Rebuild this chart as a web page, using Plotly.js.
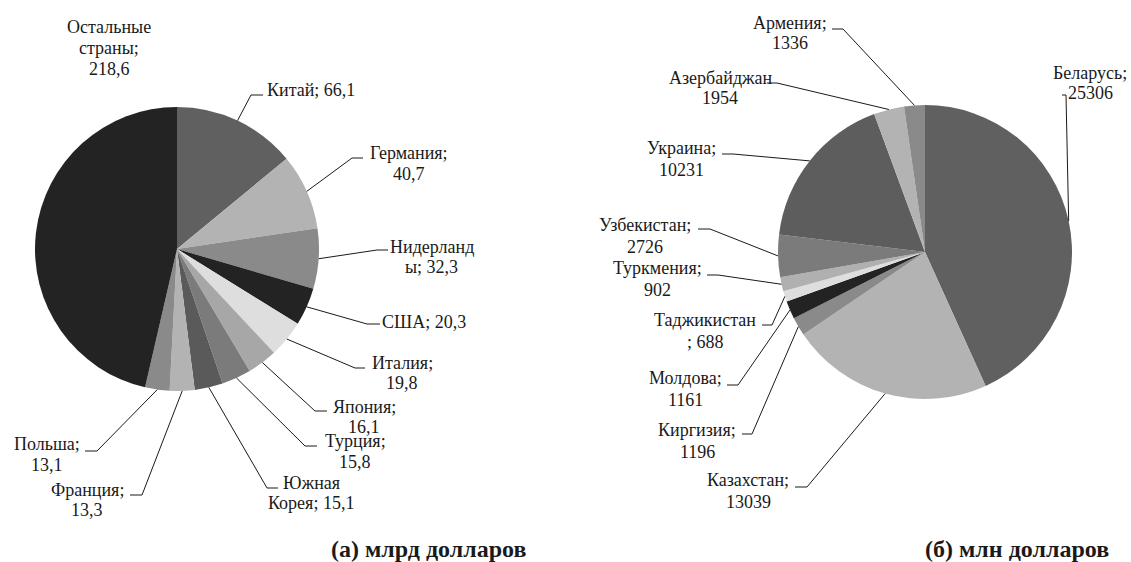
<!DOCTYPE html>
<html>
<head>
<meta charset="utf-8">
<script src="https://cdn.plot.ly/plotly-3.0.1.min.js"></script>
<style>html,body{margin:0;padding:0;background:#fff;}#chart{width:1131px;height:562px;}</style>
</head>
<body>
<div id="chart"></div>
<script>
// ---- data ----
const leftNames = ['Китай','Германия','Нидерланды','США','Италия','Япония','Турция','Южная Корея','Франция','Польша','Остальные страны'];
const leftValues = [66.1, 40.7, 32.3, 20.3, 19.8, 16.1, 15.8, 15.1, 13.3, 13.1, 218.6];
const rightNames = ['Беларусь','Казахстан','Киргизия','Молдова','Таджикистан','Туркмения','Узбекистан','Украина','Азербайджан','Армения'];
const rightValues = [25306, 13039, 1196, 1161, 688, 902, 2726, 10231, 1954, 1336];
const leftTitle = '(а) млрд долларов';
const rightTitle = '(б) млн долларов';

// ---- styles ----
const leftColors = ['#606060','#b3b3b3','#8a8a8a','#232323','#dedede','#a7a7a7','#7b7b7b','#5a5a5a','#b3b3b3','#8a8a8a','#232323'];
const rightColors = ['#606060','#b3b3b3','#8a8a8a','#232323','#dedede','#b0b0b0','#7b7b7b','#5d5d5d','#b3b3b3','#8a8a8a'];

const W = 1131, H = 562;
const px = v => v / W;
const py = v => 1 - v / H;

const LP = {cx: 177, cy: 249, r: 142};
const RP = {cx: 925, cy: 252, r: 147};

// label layout: cuts = [[end, nextStart], ...], text center x, line ys, leader elbow x,y and horizontal end x
const leftLayout = [
  {cuts: [], tx: 311, ys: [90], ex: 251, ey: 95, hx: 263},
  {cuts: [[9,10]], tx: 409, ys: [153,174], ex: 352, ey: 158, hx: 363},
  {cuts: [[9,9]], tx: 432, ys: [247,267], ex: 377, ey: 250, hx: 388},
  {cuts: [], tx: 424, ys: [322], ex: 367, ey: 324, hx: 380},
  {cuts: [[7,8]], tx: 402, ys: [363,383], ex: 355, ey: 368, hx: 365},
  {cuts: [[7,8]], tx: 364, ys: [407,427], ex: 315, ey: 411, hx: 327},
  {cuts: [[7,8]], tx: 355, ys: [441,462], ex: 305, ey: 446, hx: 317},
  {cuts: [[5,6]], tx: 311, ys: [483,503], ex: 267, ey: 488, hx: 278},
  {cuts: [[8,9]], tx: 87, ys: [490,510], ex: 142, ey: 495, hx: 130},
  {cuts: [[7,8]], tx: 47, ys: [444,465], ex: 97, ey: 451, hx: 85},
  {cuts: [[9,10],[17,18]], tx: 109, ys: [27,48,69], ex: null}
];
const rightLayout = [
  {cuts: [[9,10]], tx: 1090, ys: [73,93], ex: 1066, ey: 95, hx: 1062},
  {cuts: [[10,11]], tx: 748, ys: [480,502], ex: 807, ey: 487, hx: 795},
  {cuts: [[9,10]], tx: 697, ys: [430,452], ex: 752, ey: 434, hx: 742},
  {cuts: [[8,9]], tx: 685, ys: [378,400], ex: 738, ey: 385, hx: 727},
  {cuts: [[11,11]], tx: 705, ys: [320,342], ex: 772, ey: 325, hx: 762},
  {cuts: [[10,11]], tx: 657, ys: [268,290], ex: 718, ey: 275, hx: 707},
  {cuts: [[11,12]], tx: 645, ys: [225,247], ex: 710, ey: 229, hx: 698},
  {cuts: [[8,9]], tx: 681, ys: [148,170], ex: 733, ey: 154, hx: 722},
  {cuts: [[11,13]], tx: 720, ys: [78,98], ex: 777, ey: 83, hx: 767},
  {cuts: [[8,9]], tx: 790, ys: [23,43], ex: 843, ey: 29, hx: 832}
];

const fmtL = v => v.toFixed(1).replace('.', ',');
const fmtR = v => String(v);

function splitText(s, cuts) {
  const out = [];
  let start = 0;
  cuts.forEach(c => { out.push(s.slice(start, c[0]).trim()); start = c[1]; });
  out.push(s.slice(start).trim());
  return out;
}

const FONT = 'Liberation Serif';
const annotations = [];
const shapes = [];

function buildLabels(names, values, layoutArr, fmt, geo) {
  const total = values.reduce((a, b) => a + b, 0);
  let cum = 0;
  names.forEach((name, i) => {
    const midAng = (cum + values[i] / 2) / total * 2 * Math.PI;
    cum += values[i];
    const L = layoutArr[i];
    const lines = splitText(name + '; ' + fmt(values[i]), L.cuts);
    lines.forEach((t, k) => {
      annotations.push({
        xref: 'paper', yref: 'paper', x: px(L.tx), y: py(L.ys[k]),
        xanchor: 'center', yanchor: 'middle', showarrow: false, text: t,
        font: {family: FONT, size: 18, color: '#1a1a1a'}
      });
    });
    if (L.ex !== null) {
      const ax = geo.cx + geo.r * Math.sin(midAng);
      const ay = geo.cy - geo.r * Math.cos(midAng);
      shapes.push({
        type: 'path', xref: 'paper', yref: 'paper',
        path: `M ${px(ax)},${py(ay)} L ${px(L.ex)},${py(L.ey)} L ${px(L.hx)},${py(L.ey)}`,
        line: {color: '#1a1a1a', width: 1}
      });
    }
  });
}
buildLabels(leftNames, leftValues, leftLayout, fmtL, LP);
buildLabels(rightNames, rightValues, rightLayout, fmtR, RP);

annotations.push({xref: 'paper', yref: 'paper', x: px(428), y: py(549), xanchor: 'center', yanchor: 'middle',
  showarrow: false, text: '<b>' + leftTitle + '</b>', font: {family: FONT, size: 24, color: '#1a1a1a'}});
annotations.push({xref: 'paper', yref: 'paper', x: px(1017), y: py(549), xanchor: 'center', yanchor: 'middle',
  showarrow: false, text: '<b>' + rightTitle + '</b>', font: {family: FONT, size: 24, color: '#1a1a1a'}});

function dom(g) {
  return {x: [px(g.cx - g.r), px(g.cx + g.r)], y: [py(g.cy + g.r), py(g.cy - g.r)]};
}

const traces = [
  {type: 'pie', labels: leftNames, values: leftValues, sort: false, direction: 'clockwise', rotation: 0,
   textinfo: 'none', hoverinfo: 'label+value', marker: {colors: leftColors, line: {width: 0}},
   domain: dom(LP), showlegend: false},
  {type: 'pie', labels: rightNames, values: rightValues, sort: false, direction: 'clockwise', rotation: 0,
   textinfo: 'none', hoverinfo: 'label+value', marker: {colors: rightColors, line: {width: 0}},
   domain: dom(RP), showlegend: false}
];

Plotly.newPlot('chart', traces, {
  width: W, height: H, margin: {l: 0, r: 0, t: 0, b: 0},
  paper_bgcolor: '#ffffff', plot_bgcolor: '#ffffff',
  font: {family: FONT},
  annotations: annotations, shapes: shapes, showlegend: false
}, {displayModeBar: false, staticPlot: true});
</script>
</body>
</html>
